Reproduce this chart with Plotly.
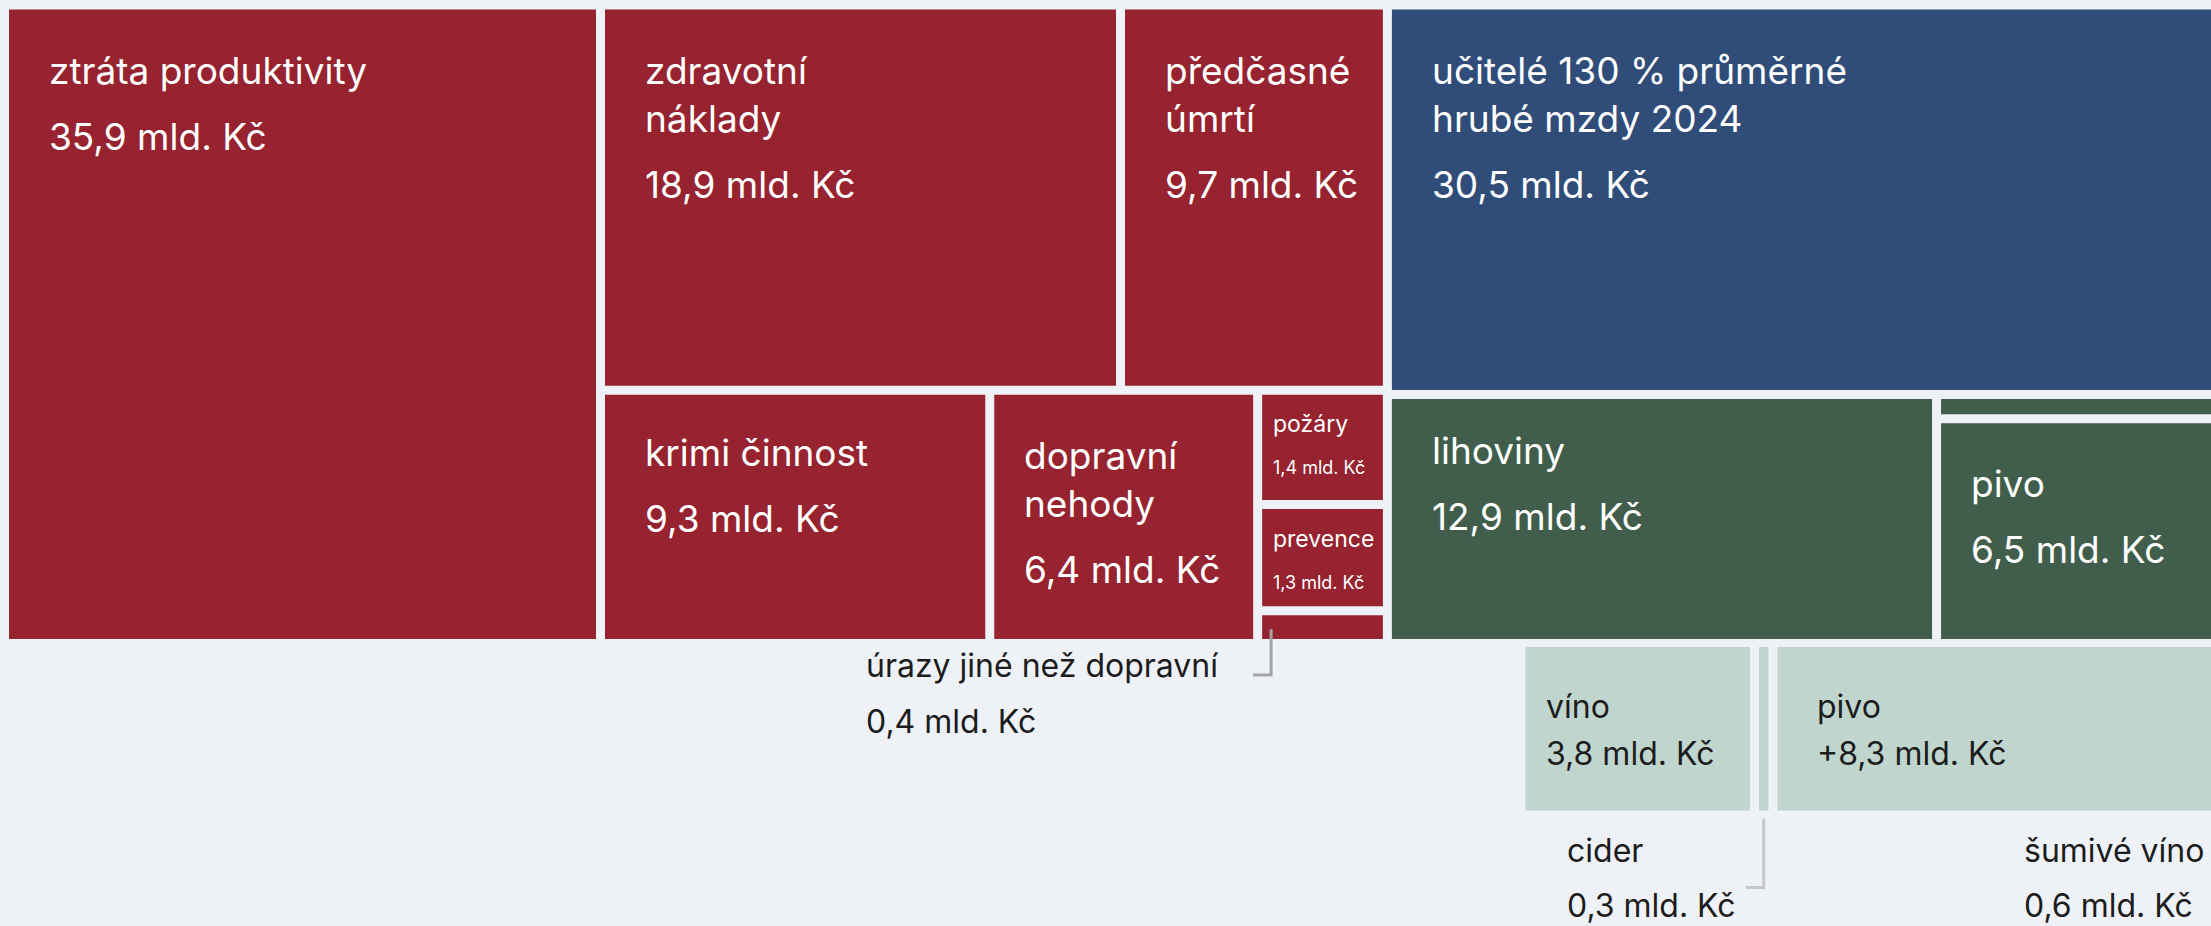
import plotly.graph_objects as go

# ---------------- data ----------------
COST_NAMES = ["ztráta produktivity", "zdravotní\nnáklady", "předčasné\númrtí", "krimi činnost",
              "dopravní\nnehody", "požáry", "prevence", "úrazy jiné než dopravní"]
COST_VALUES = [35.9, 18.9, 9.7, 9.3, 6.4, 1.4, 1.3, 0.4]

TEACHER_NAMES = ["učitelé 130 % průměrné\nhrubé mzdy 2024"]
TEACHER_VALUES = [30.5]

TAX_NAMES = ["lihoviny", "", "pivo"]          # thin unlabelled strip in the middle
TAX_VALUES = [12.9, 0.7, 6.5]

EXTRA_NAMES = ["víno", "cider", "pivo", "šumivé víno"]
EXTRA_VALUES = [3.8, 0.3, 8.3, 0.6]
EXTRA_SIGNS = ["", "", "+", ""]

UNIT = " mld. Kč"

# ---------------- layout constants ----------------
W, H = 2211, 926
K = 10600.0        # px^2 per 1 mld. Kč
GAP = 9
BG = "#eef2f6"
COLORS = {"cost": "#96232f", "teacher": "#2f4d78", "tax": "#405e4b", "extra": "#c0d5ce"}
TEXT_DARK = "#1c1c1c"
FONT = "Inter"
# small per-label vertical nudges (px)
LABEL_DY = {"lihoviny": -9, "krimi činnost": -3}


def split(rect, weights, axis):
    x0, y0, x1, y1 = rect
    tot = float(sum(weights))
    out, pos = [], (x0 if axis == "x" else y0)
    span = (x1 - x0) if axis == "x" else (y1 - y0)
    for w in weights:
        d = span * w / tot
        out.append((pos, y0, pos + d, y1) if axis == "x" else (x0, pos, x1, pos + d))
        pos += d
    return out


def group_rect(x0, y0, height, values):
    return (x0, y0, x0 + sum(values) * K / height, y0 + height)


# costs (red)
v = COST_VALUES
red = group_rect(4.5, 5.0, 638.5, v)
c_main, c_rest = split(red, [v[0], sum(v[1:])], "x")
r_top, r_bot = split(c_rest, [v[1] + v[2], sum(v[3:])], "y")
b_top = split(r_top, v[1:3], "x")
b_bot = split(r_bot, [v[3], v[4], sum(v[5:])], "x")
b_col = split(b_bot[2], v[5:], "y")
cost_rects = [c_main] + b_top + b_bot[:2] + b_col

# teachers (blue)
teacher_rects = [group_rect(red[2], 5.0, 389.5, TEACHER_VALUES)]

# current tax (green)
t = TAX_VALUES
green = group_rect(red[2], 394.5, 249.0, t)
g_left, g_right = split(green, [t[0], t[1] + t[2]], "x")
tax_rects = [g_left] + split(g_right, t[1:], "y")

# extra tax (light green)
extra_rects = split(group_rect(1521.0, 642.5, 172.5, EXTRA_VALUES), EXTRA_VALUES, "x")

items = []
for names, vals, rects, kind, signs in [
    (COST_NAMES, COST_VALUES, cost_rects, "cost", None),
    (TEACHER_NAMES, TEACHER_VALUES, teacher_rects, "teacher", None),
    (TAX_NAMES, TAX_VALUES, tax_rects, "tax", None),
    (EXTRA_NAMES, EXTRA_VALUES, extra_rects, "extra", EXTRA_SIGNS),
]:
    for i, (n, val, r) in enumerate(zip(names, vals, rects)):
        inner = (r[0] + GAP / 2, r[1] + GAP / 2, r[2] - GAP / 2, r[3] - GAP / 2)
        items.append(dict(name=n, value=val, rect=inner, kind=kind,
                          sign=(signs[i] if signs else "")))

# outside-label styles (relative to the box)
OUTSIDE = {
    "úrazy jiné než dopravní": dict(mode="inside", label_dx=-405, name_dy=38, value_dy=94,
                                    line_color="#a5a5a5"),
    "cider": dict(mode="below", label_dx=-197, name_dy=52, value_dy=107, line_color="#c6c6c6"),
    "šumivé víno": dict(mode="below", label_dx=-277, name_dy=52, value_dy=107,
                        line_color="#c6c6c6"),
}

shapes, annotations = [], []


def add_text(x, baseline, s, fs, color):
    annotations.append(dict(
        x=x, y=baseline - 0.969 * fs, xref="x", yref="y", text=s.replace("\n", "<br>"),
        showarrow=False, xanchor="left", yanchor="top", align="left",
        font=dict(family=FONT, size=fs, color=color), borderpad=0, borderwidth=0))


def fmt(val, sign=""):
    return sign + ("%.1f" % val).replace(".", ",") + UNIT


for it in items:
    x0, y0, x1, y1 = it["rect"]
    shapes.append(dict(type="rect", xref="x", yref="y", x0=x0, y0=y0, x1=x1, y1=y1,
                       fillcolor=COLORS[it["kind"]], line=dict(width=0), layer="below"))

for it in items:
    name = it["name"]
    if not name:
        continue
    x0, y0, x1, y1 = it["rect"]
    area = (x1 - x0) * (y1 - y0)
    pad = 40 if area >= 75000 else 30 if area >= 50000 else 20 if area >= 20000 else 11
    dy = LABEL_DY.get(name, 0)
    vtxt = fmt(it["value"], it["sign"])
    if name in OUTSIDE:
        st = OUTSIDE[name]
        if st["mode"] == "inside":
            lx = x0 + 9
            ya, yb = (y0 + y1) / 2 + 2, y1 + 36
        else:
            lx = (x0 + x1) / 2
            ya, yb = y1 + 8, y1 + 77
        shapes.append(dict(type="path", xref="x", yref="y",
                           path="M %.1f,%.1f L %.1f,%.1f L %.1f,%.1f" % (lx, ya, lx, yb, lx - 18, yb),
                           line=dict(color=st["line_color"], width=3)))
        add_text(lx + st["label_dx"], y1 + st["name_dy"], name, 32, TEXT_DARK)
        add_text(lx + st["label_dx"], y1 + st["value_dy"], vtxt, 32, TEXT_DARK)
    elif it["kind"] == "extra":
        add_text(x0 + pad, y0 + 71, name, 32, TEXT_DARK)
        add_text(x0 + pad, y0 + 118, vtxt, 32, TEXT_DARK)
    elif it["value"] < 2:
        add_text(x0 + pad, y0 + 38, name, 23, "white")
        add_text(x0 + pad, y0 + 80, vtxt, 18, "white")
    else:
        nl = name.count("\n")
        add_text(x0 + pad, y0 + 74 + dy, name, 37, "white")
        add_text(x0 + pad, y0 + 74 + dy + 48 * nl + 66, vtxt, 37, "white")

fig = go.Figure()
fig.add_trace(go.Scatter(x=[0, W], y=[0, H], mode="markers", marker=dict(opacity=0),
                         hoverinfo="skip", showlegend=False))
fig.update_layout(
    width=W, height=H, margin=dict(l=0, r=0, t=0, b=0),
    paper_bgcolor=BG, plot_bgcolor=BG, showlegend=False,
    xaxis=dict(range=[0, W], visible=False, fixedrange=True),
    yaxis=dict(range=[H, 0], visible=False, fixedrange=True),
    shapes=shapes, annotations=annotations,
)
fig.write_html("out.html", config={"displayModeBar": False},
               post_script="document.body.style.margin='0';")
